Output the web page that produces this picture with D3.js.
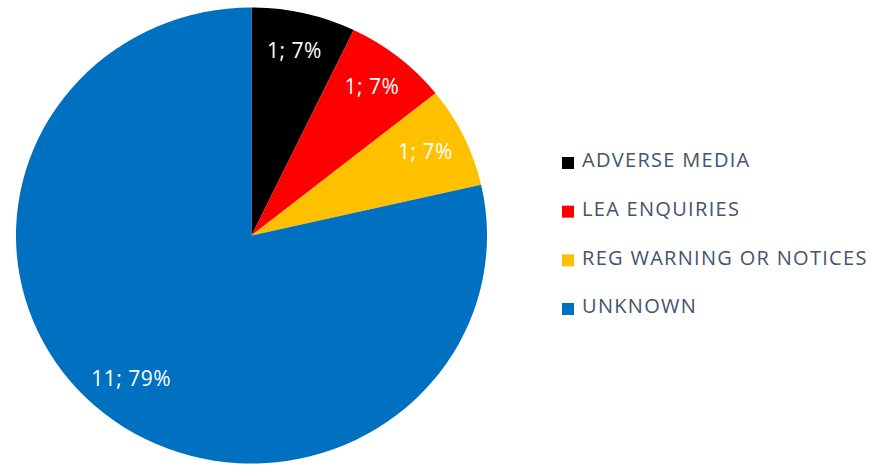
<!DOCTYPE html>
<html>
<head>
<meta charset="utf-8">
<script src="https://cdn.jsdelivr.net/npm/d3@7"></script>
<style>
  body { margin: 0; background: #fff; }
  svg { display: block; }
</style>
</head>
<body>
<div id="wrapper"></div>
<script>
/////////////////////////////////////////////////
// data /////////////////////////////////////////
/////////////////////////////////////////////////

const categories = ["ADVERSE MEDIA", "LEA ENQUIRIES", "REG WARNING OR NOTICES", "UNKNOWN"];
const counts = [1, 1, 1, 11];
const colors = ["#000000", "#ff0000", "#ffc000", "#0070c0"];

const data = categories.map((c, i) => ({ category: c, count: counts[i], color: colors[i] }));
const total = d3.sum(counts);

/////////////////////////////////////////////////
// dimensions ///////////////////////////////////
/////////////////////////////////////////////////

const width = 872;
const height = 467;
const cx = 251.5;
const cy = 235.5;
const radius = 228;
const stretchX = 1.033; // source picture is a bit wider than tall

const svg = d3.select("#wrapper").append("svg")
  .attr("width", width)
  .attr("height", height);

const font = "'Open Sans', Lato, sans-serif";

/////////////////////////////////////////////////
// pie //////////////////////////////////////////
/////////////////////////////////////////////////

const pie = d3.pie().sort(null).value(d => d.count);
const arcs = pie(data);

const arc = d3.arc().innerRadius(0).outerRadius(radius);
const labelArc = d3.arc().innerRadius(radius * 0.82).outerRadius(radius * 0.82);

const pieG = svg.append("g")
  .attr("transform", `translate(${cx},${cy}) scale(${stretchX},1)`);

pieG.selectAll("path")
  .data(arcs)
  .join("path")
  .attr("d", arc)
  .attr("fill", d => d.data.color);

// labels (outside the scaled group so text is not stretched)
svg.append("g")
  .selectAll("text")
  .data(arcs)
  .join("text")
  .attr("x", d => cx + labelArc.centroid(d)[0] * stretchX)
  .attr("y", d => cy + labelArc.centroid(d)[1] - 3)
  .attr("dy", "0.36em")
  .attr("text-anchor", "middle")
  .style("font-family", font)
  .style("font-size", "21px")
  .style("letter-spacing", "0.5px")
  .attr("fill", "#ffffff")
  .text(d => `${d.data.count}; ${Math.round(d.data.count / total * 100)}%`);

/////////////////////////////////////////////////
// legend ///////////////////////////////////////
/////////////////////////////////////////////////

const legendY = d3.scalePoint()
  .domain(categories)
  .range([160, 306]);

const legend = svg.append("g")
  .selectAll("g")
  .data(data)
  .join("g")
  .attr("transform", d => `translate(562,${legendY(d.category)})`);

legend.append("rect")
  .attr("x", 0)
  .attr("y", -3)
  .attr("width", 12)
  .attr("height", 12)
  .attr("fill", d => d.color);

legend.append("text")
  .attr("x", 20)
  .attr("dy", "0.36em")
  .style("font-family", font)
  .style("font-size", "20px")
  .style("letter-spacing", "1.3px")
  .attr("fill", "#44546a")
  .text(d => d.category);
</script>
</body>
</html>
